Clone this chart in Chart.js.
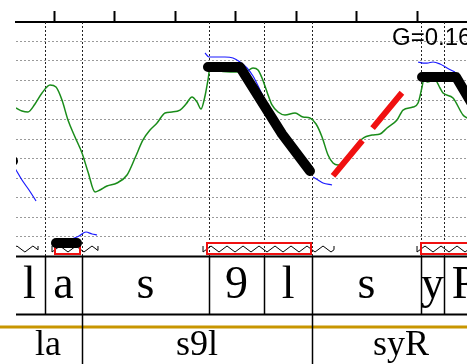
<!DOCTYPE html>
<html><head><meta charset="utf-8">
<script src="https://cdn.jsdelivr.net/npm/chart.js@4"></script>
<style>html,body{margin:0;padding:0;background:#fff;overflow:hidden}canvas{display:block}</style>
</head><body>
<canvas id="c" width="467" height="364"></canvas>
<script>
// ---- data (time in s, pitch in semitones) ----
const timeTicks = [1.2, 1.3, 1.4, 1.5, 1.6, 1.7, 1.8];
const stGrid = [82, 84, 86, 88, 90, 92, 94, 96, 98, 100, 102];

const greenT = [1.1367,1.1466,1.1565,1.1681,1.1797,1.1929,1.2028,1.2127,1.2226,1.2342,1.2458,1.2557,1.2673,1.2755,1.2871,1.3036,1.3202,1.3334,1.3466,1.3582,1.3698,1.3830,1.3945,1.4078,1.4177,1.4276,1.4359,1.4425,1.4491,1.4540,1.4574,1.4739,1.4987,1.5152,1.5284,1.5367,1.5433,1.5516,1.5598,1.5698,1.5813,1.5979,1.6111,1.6226,1.6326,1.6425,1.6524,1.6607,1.6689,1.6805,1.6970,1.7086,1.7251,1.7383,1.7499,1.7664,1.7764,1.7929,1.8012,1.8078,1.8111,1.8160,1.8293,1.8375,1.8425,1.8590,1.8755,1.8821];
const greenST = [95.18,94.87,94.77,95.59,96.72,97.54,97.33,96.00,93.95,92.21,90.56,88.62,86.56,86.77,87.18,87.49,88.31,90.05,91.90,92.92,93.64,94.67,94.77,94.97,95.59,96.31,95.79,95.08,96.41,98.05,99.28,98.97,98.87,98.87,99.28,99.08,98.26,96.82,95.49,94.77,94.46,94.67,94.26,94.15,93.54,92.21,90.36,89.54,89.33,89.54,91.08,92.00,92.41,92.51,93.13,93.95,94.97,95.28,95.69,97.33,98.26,97.85,98.05,97.23,96.72,96.21,94.46,94.15];

const blue1T = [1.1267,1.1367,1.1466,1.1582,1.1698];
const blue1ST = [89.64,88.82,87.79,86.77,85.64];
const blue2T = [1.2293,1.2408,1.2524,1.2623,1.2706];
const blue2ST = [81.74,82.05,82.46,82.26,82.15];
const blue3T = [1.4491,1.4557,1.4656,1.4821,1.4954,1.5069,1.5185,1.5284,1.5400,1.5532];
const blue3ST = [100.82,100.41,100.41,100.41,100.31,99.90,99.28,98.46,97.03,95.28];
const blue4T = [1.6276,1.6359,1.6441,1.6590];
const blue4ST = [88.10,87.79,87.49,87.28];
const blue5T = [1.8012,1.8094,1.8160,1.8260,1.8375,1.8491,1.8623];
const blue5ST = [99.90,99.79,99.79,99.90,99.69,99.28,98.87];

const style0T = [1.1169,1.1317];
const style0ST = [89.95,89.74];
const style1T = [1.2028,1.2375];
const style1ST = [81.33,81.33];
const style2T = [1.4540,1.5069,1.5764,1.6226];
const style2ST = [99.38,99.38,92.51,88.72];
const style3T = [1.8078,1.8640,1.9002];
const style3ST = [98.36,98.36,94.56];

const riseT = [1.6607,1.7797];
const riseST = [88.21,97.13];

const zigStart = [1.1250,1.1962,1.4458,1.7995];
const zigEnd   = [1.1731,1.2722,1.6623,1.9202];
const boxStart = [1.2012,1.4524,1.8061];
const boxEnd   = [1.2425,1.6243,1.9202];

const phoneLabels = ['l','a','s','9','l','s','y','R'];
const phoneBounds = [1.1334,1.1846,1.2458,1.4557,1.5466,1.6260,1.8061,1.8441,1.9202];
const syllLabels = ['la','s9l','syR'];
const syllBounds = [1.1334,1.2458,1.6260,1.9202];
const gainLabel = 'G=0.16/T²';

const pts = (T, S) => T.map((t, i) => ({x: t, y: S[i]}));

const proso = {
  id: 'proso',
  beforeDatasetsDraw(chart) {
    const {ctx, chartArea: a, scales: {x}} = chart;
    ctx.save();
    ctx.beginPath(); ctx.rect(a.left, a.top, a.right - a.left, a.bottom - a.top); ctx.clip();
    ctx.strokeStyle = '#222'; ctx.lineWidth = 1; ctx.setLineDash([2, 2]);
    phoneBounds.forEach(b => {
      const px = Math.round(x.getPixelForValue(b)) + 0.5;
      ctx.beginPath(); ctx.moveTo(px, a.top); ctx.lineTo(px, a.bottom); ctx.stroke();
    });
    ctx.setLineDash([]);
    const yT = a.bottom - 10, yB = a.bottom - 4, per = 16;
    ctx.strokeStyle = '#000'; ctx.lineWidth = 1;
    zigStart.forEach((s, i) => {
      const x0 = x.getPixelForValue(s), x1 = x.getPixelForValue(zigEnd[i]);
      ctx.beginPath(); ctx.moveTo(x0, yT); ctx.lineTo(x0, yB);
      let cx = x0, up = true, cy = yB;
      while (cx < x1) {
        const nx = Math.min(cx + per / 2, x1);
        const ny = up ? yT : yB;
        const frac = (nx - cx) / (per / 2);
        cy = cy + (ny - cy) * frac;
        ctx.lineTo(nx, cy);
        cx = nx; if (frac >= 1) up = !up;
      }
      ctx.lineTo(x1, cy > (yT + yB) / 2 ? yT : yB);
      ctx.stroke();
    });
    ctx.strokeStyle = '#f01010'; ctx.lineWidth = 2;
    boxStart.forEach((s, i) => {
      const x0 = Math.round(x.getPixelForValue(s)), x1 = Math.round(x.getPixelForValue(boxEnd[i]));
      ctx.strokeRect(x0, a.bottom - 13, x1 - x0, 11);
    });
    ctx.restore();
  },
  afterDraw(chart) {
    const {ctx, chartArea: a, scales: {x}, width} = chart;
    ctx.save();
    const pTop = a.bottom, pBot = a.bottom + 58, gold = a.bottom + 71;
    ctx.strokeStyle = '#000'; ctx.lineWidth = 2;
    [pTop, pBot].forEach(y => { ctx.beginPath(); ctx.moveTo(a.left, y + 0.5); ctx.lineTo(a.right, y + 0.5); ctx.stroke(); });
    ctx.lineWidth = 1.5;
    phoneBounds.forEach(b => {
      const px = Math.round(x.getPixelForValue(b)) + 0.5;
      if (px < a.left || px > a.right) return;
      ctx.beginPath(); ctx.moveTo(px, pTop); ctx.lineTo(px, pBot); ctx.stroke();
    });
    ctx.strokeStyle = '#c89600'; ctx.lineWidth = 3;
    ctx.beginPath(); ctx.moveTo(0, gold); ctx.lineTo(width, gold); ctx.stroke();
    ctx.strokeStyle = '#000'; ctx.lineWidth = 1.5;
    syllBounds.forEach(b => {
      const px = Math.round(x.getPixelForValue(b)) + 0.5;
      if (px < a.left || px > a.right) return;
      ctx.beginPath(); ctx.moveTo(px, pBot); ctx.lineTo(px, chart.height); ctx.stroke();
    });
    ctx.fillStyle = '#000'; ctx.textAlign = 'center'; ctx.textBaseline = 'alphabetic';
    ctx.font = '46px "Liberation Serif"';
    phoneLabels.forEach((l, i) => {
      const c = (x.getPixelForValue(phoneBounds[i]) + x.getPixelForValue(phoneBounds[i + 1])) / 2;
      ctx.fillText(l, c, a.bottom + 42);
    });
    ctx.font = '36px "Liberation Serif"';
    syllLabels.forEach((l, i) => {
      const c = (x.getPixelForValue(syllBounds[i]) + x.getPixelForValue(syllBounds[i + 1])) / 2;
      ctx.fillText(l, c, a.bottom + 99);
    });
    ctx.textAlign = 'left'; ctx.font = '24px "Liberation Sans"';
    ctx.fillText(gainLabel, 392, a.top + 23);
    ctx.restore();
  }
};

const line = (data, color, w, extra) => Object.assign({
  data, borderColor: color, borderWidth: w, showLine: true, pointRadius: 0, clip: 0, tension: 0
}, extra || {});

new Chart(document.getElementById('c'), {
  type: 'scatter',
  data: {
    datasets: [
      line(pts(style0T, style0ST), '#000', 10, {borderCapStyle: 'round', borderJoinStyle: 'round'}),
      line(pts(style1T, style1ST), '#000', 10, {borderCapStyle: 'round', borderJoinStyle: 'round'}),
      line(pts(style2T, style2ST), '#000', 10, {borderCapStyle: 'round', borderJoinStyle: 'round'}),
      line(pts(style3T, style3ST), '#000', 10, {borderCapStyle: 'round', borderJoinStyle: 'round'}),
      line(pts(riseT, riseST), '#f01010', 6, {borderDash: [46, 16]}),
      line(pts(blue1T, blue1ST), '#1a1aff', 1.2, {cubicInterpolationMode: 'monotone'}),
      line(pts(blue2T, blue2ST), '#1a1aff', 1.2, {cubicInterpolationMode: 'monotone'}),
      line(pts(blue3T, blue3ST), '#1a1aff', 1.2, {cubicInterpolationMode: 'monotone'}),
      line(pts(blue4T, blue4ST), '#1a1aff', 1.2, {cubicInterpolationMode: 'monotone'}),
      line(pts(blue5T, blue5ST), '#1a1aff', 1.2, {cubicInterpolationMode: 'monotone'}),
      line(pts(greenT, greenST), '#1a8c1a', 1.5, {cubicInterpolationMode: 'monotone'})
    ]
  },
  options: {
    responsive: false, animation: false, devicePixelRatio: 1,
    layout: {padding: {left: 16, right: 0, top: 11, bottom: 108}},
    plugins: {legend: {display: false}, tooltip: {enabled: false}},
    events: [],
    scales: {
      x: {
        type: 'linear', position: 'top', min: 1.1367, max: 1.8821,
        afterBuildTicks: s => { s.ticks = timeTicks.map(v => ({value: v})); },
        ticks: {display: false},
        grid: {drawOnChartArea: false, drawTicks: true, tickLength: 11, tickWidth: 2, tickColor: '#000'},
        border: {display: true, color: '#000', width: 2}
      },
      y: {
        type: 'linear', min: 80, max: 104,
        afterBuildTicks: s => { s.ticks = stGrid.map(v => ({value: v})); },
        ticks: {display: false},
        grid: {drawTicks: false, color: '#9a9a9a', lineWidth: 1, borderDash: [2, 2]},
        border: {display: false, dash: [2, 2]}
      }
    }
  },
  plugins: [proso]
});
</script>
</body></html>
